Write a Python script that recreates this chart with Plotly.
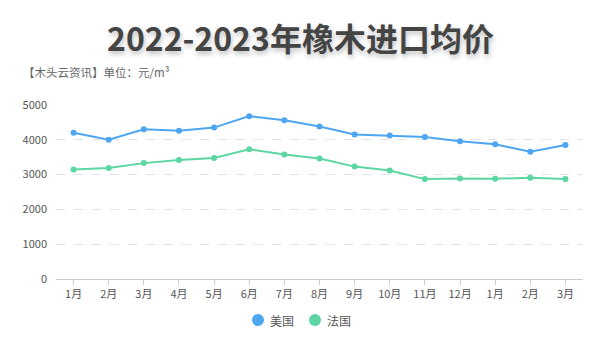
import plotly.graph_objects as go

months = ["1月", "2月", "3月", "4月", "5月", "6月", "7月", "8月", "9月", "10月", "11月", "12月", "1月", "2月", "3月"]
x_idx = list(range(len(months)))
usa = [4200, 4000, 4300, 4260, 4350, 4680, 4560, 4380, 4150, 4120, 4080, 3960, 3870, 3660, 3850]
france = [3150, 3190, 3330, 3420, 3480, 3730, 3580, 3460, 3230, 3120, 2870, 2890, 2880, 2910, 2870]
y_ticks = [0, 1000, 2000, 3000, 4000, 5000]
series = [("美国", usa, "#4ea6f0"), ("法国", france, "#5cd6a2")]

FONT = "Noto Sans CJK SC"
L, R, T, B, W, H = 56, 17, 105, 74, 600, 353
PW, PH = W - L - R, H - T - B


def px(x):
    return (x - L) / PW


def py(y):
    return (H - B - y) / PH


fig = go.Figure()
for name, vals, col in series:
    fig.add_trace(go.Scatter(
        x=x_idx, y=vals, mode="lines+markers", name=name,
        line=dict(color=col, width=2), marker=dict(color=col, size=6),
        showlegend=False))

annotations = [
    dict(text="<b>2022-2023年橡木进口均价</b>", xref="paper", yref="paper",
         x=px(300), y=py(37), xanchor="center", yanchor="middle", showarrow=False,
         font=dict(family=FONT, size=32, color="#444",
                   shadow="1px 3px 5px rgba(0,0,0,0.25)")),
    dict(text="【木头云资讯】单位：元/m³", xref="paper", yref="paper",
         x=px(21), y=py(72), xanchor="left", yanchor="middle",
         showarrow=False, font=dict(family=FONT, size=11.5, color="#666")),
]
shapes = []
legend_pos = [258, 315]
for (name, _, col), cx in zip(series, legend_pos):
    shapes.append(dict(type="circle", xref="paper", yref="paper", xsizemode="pixel",
                       ysizemode="pixel", xanchor=px(cx), yanchor=py(320),
                       x0=-6, x1=6, y0=-6, y1=6, fillcolor=col, line=dict(width=0)))
    annotations.append(dict(text=name, xref="paper", yref="paper", x=px(cx + 10),
                            y=py(320), xanchor="left", yanchor="middle", showarrow=False,
                            font=dict(family=FONT, size=12, color="#555")))

fig.update_layout(
    width=W, height=H,
    margin=dict(l=L, r=R, t=T, b=B),
    paper_bgcolor="white", plot_bgcolor="white",
    font=dict(family=FONT, color="#555", size=11),
    showlegend=False,
    annotations=annotations, shapes=shapes,
)
fig.update_xaxes(
    range=[-0.5, len(months) - 0.5], tickmode="array", tickvals=x_idx, ticktext=months,
    showgrid=False, showline=True, linecolor="#ccc", linewidth=1,
    ticks="outside", ticklen=5, tickcolor="#ccc", zeroline=False,
    tickfont=dict(size=11, color="#555"),
)
fig.update_yaxes(
    range=[0, 5000], tickmode="array", tickvals=y_ticks,
    showgrid=True, gridcolor="#e3e3e3", griddash="dash", gridwidth=1,
    zeroline=False, showline=False, ticks="", ticklabelstandoff=8,
    tickfont=dict(size=11, color="#555"),
)
fig.write_html("out.html")
